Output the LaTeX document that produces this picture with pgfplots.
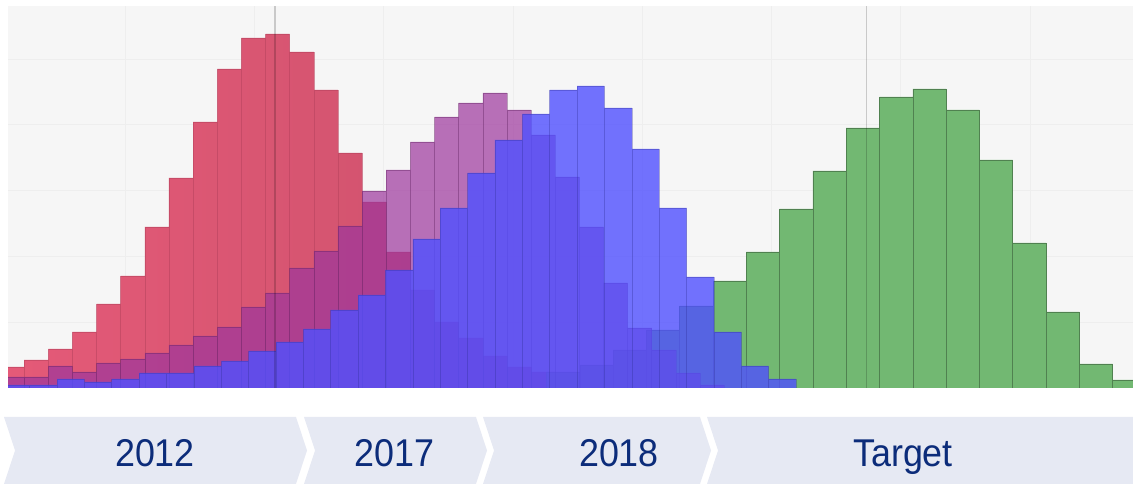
\documentclass[border=0pt]{standalone}
\usepackage{pgfplots}
\pgfplotsset{compat=1.18}
\usepackage{fontspec}
\setmainfont{Liberation Sans}
\definecolor{bgcol}{RGB}{246,246,246}
\definecolor{gridcol}{RGB}{238,238,238}
\definecolor{redL}{RGB}{229,90,120}
\definecolor{redR}{RGB}{200,80,106}
\definecolor{redE}{RGB}{185,68,95}
\definecolor{purp}{RGB}{157,54,157}
\definecolor{blu}{RGB}{80,80,255}
\definecolor{grn}{RGB}{114,184,114}
\definecolor{chev}{RGB}{230,233,243}
\definecolor{txt}{RGB}{12,44,122}
\begin{document}
\begin{tikzpicture}[x=1bp,y=1bp]
\path[use as bounding box] (0,0) rectangle (1133,484);
\begin{axis}[at={(8,96)}, anchor=south west, scale only axis,
  width=1125bp, height=382bp,
  xmin=8, xmax=1133, ymin=0, ymax=382,
  axis line style={draw=none}, major tick length=0pt,
  xtick={125,254.3,383.6,512.9,642.2,771.5,900.8,1030.1},
  ytick={65.8,131.6,197.4,263.2,329},
  xticklabels={}, yticklabels={},
  grid=major, major grid style={draw=gridcol, line width=0.7bp},
  axis background/.style={fill=bgcol}]
% 2012 (red)
\addplot[ybar interval, left color=redL, right color=redR, draw=redE, draw opacity=0.6, line width=0.5bp] coordinates {
(0,21) (24.14,28) (48.28,39) (72.42,56) (96.56,84) (120.7,112) (144.84,161) (168.98,210)
(193.12,266) (217.26,319) (241.4,350) (265.54,354) (289.68,336) (313.82,298) (337.96,235)
(362.1,186) (386.24,136) (410.38,98) (434.52,66) (458.66,50) (482.8,32) (506.94,21)
(531.08,16) (555.22,10) (579.36,5) (603.5,2) (627.64,0)};
% Target (green)
\addplot[ybar interval, fill=grn, draw=black!30!grn, line width=0.6bp] coordinates {
(546.5,16) (579.8,23) (613.1,38) (646.4,58) (679.7,82) (713,107) (746.3,136) (779.6,179)
(812.9,217) (846.2,260) (879.5,291) (912.8,299) (946.1,278) (979.4,228) (1012.7,145)
(1046,76) (1079.3,24) (1112.6,8) (1145.9,0)};
% 2017 (purple)
\addplot[ybar interval, fill=purp, fill opacity=0.7, draw=black!40!purp, draw opacity=0.4, line width=0.6bp] coordinates {
(0,11) (24.14,11) (48.28,22) (72.42,16) (96.56,25) (120.7,29) (144.84,35) (168.98,43)
(193.12,52) (217.26,61) (241.4,81) (265.54,95) (289.68,120) (313.82,137) (337.96,162)
(362.1,197) (386.24,218) (410.38,246) (434.52,271) (458.66,285) (482.8,295) (506.94,278)
(531.08,253) (555.22,211) (579.36,161) (603.5,105) (627.64,60) (651.78,38) (675.92,15)
(700.06,3) (724.2,0)};
% 2018 (blue)
\addplot[ybar interval, fill=blu, fill opacity=0.8, draw=black!40!blu, draw opacity=0.35, line width=0.6bp] coordinates {
(2.3,3) (29.67,3) (57.04,9) (84.41,6) (111.78,9) (139.15,15) (166.52,15) (193.89,22)
(221.26,27) (248.63,37) (276,46) (303.37,59) (330.74,78) (358.11,93) (385.48,118)
(412.85,149) (440.22,180) (467.59,215) (494.96,248) (522.33,274) (549.7,298) (577.07,302)
(604.44,280) (631.81,239) (659.18,180) (686.55,111) (713.92,56) (741.29,22) (768.66,9)
(796.03,0)};
% reference lines
\addplot[draw=black, draw opacity=0.18, line width=1.1bp] coordinates {(275,0) (275,382)};
\addplot[draw=black, draw opacity=0.18, line width=1.1bp] coordinates {(866.5,0) (866.5,382)};
\end{axis}
% chevron band
\fill[chev] (4,67) -- (296,67) -- (307,33.5) -- (296,0) -- (4,0) -- (15,33.5) -- cycle;
\fill[chev] (304,67) -- (476,67) -- (487,33.5) -- (476,0) -- (304,0) -- (315,33.5) -- cycle;
\fill[chev] (483,67) -- (700,67) -- (711,33.5) -- (700,0) -- (483,0) -- (494,33.5) -- cycle;
\fill[chev] (707,67) -- (1133,67) -- (1133,0) -- (707,0) -- (718,33.5) -- cycle;
\begin{scope}[every node/.style={font=\fontsize{36}{40}\selectfont, text=txt, anchor=base, inner sep=0pt}]
\node[yscale=1.08, transform shape] at (155,17.3) {2012};
\node[yscale=1.08, transform shape] at (394.5,17.3) {2017};
\node[yscale=1.08, transform shape] at (619,17.3) {2018};
\node[yscale=1.08, transform shape] at (903,17.3) {Target};
\end{scope}
\end{tikzpicture}
\end{document}
